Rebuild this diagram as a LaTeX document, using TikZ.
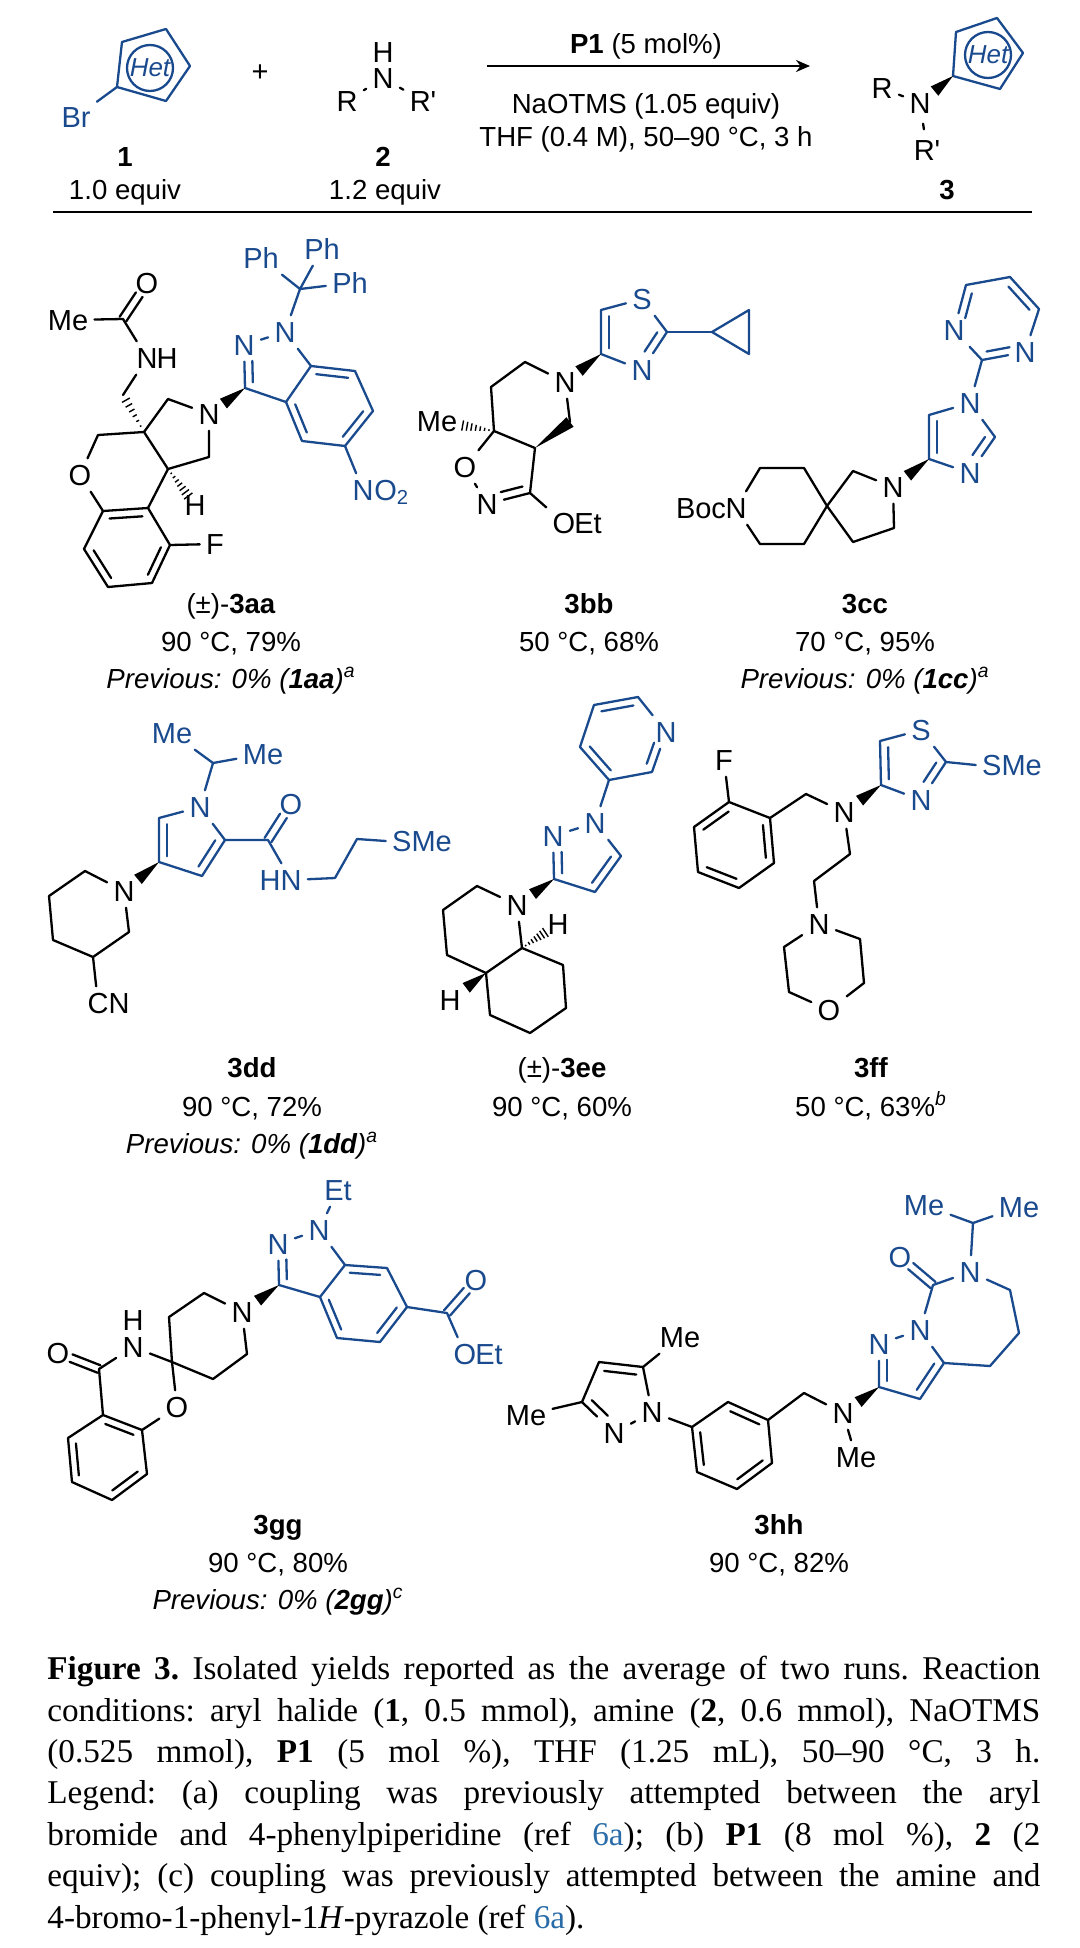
\documentclass[tikz,border=0pt]{standalone}
\usepackage{fontspec}
\setmainfont{Liberation Sans}
\newfontfamily\capfont{Liberation Serif}
\usetikzlibrary{calc}
\usetikzlibrary{arrows.meta}
\definecolor{hetblue}{HTML}{1A4A8E}
\definecolor{refblue}{HTML}{2A6CA8}
\tikzset{
 atom/.style={inner sep=3pt, text height=10.3pt, text depth=0pt, font=\fontsize{14.5}{16}\selectfont},
 lab/.style={atom, font=\fontsize{13.8}{16}\selectfont},
 bond/.style={line width=1.15pt, line cap=round, line join=round},
 hetring/.style={draw,circle,inner sep=0pt,minimum size=23pt,line width=1.15pt,font=\fontsize{13}{15}\itshape},
}
\newcommand{\inhex}[4][]{\draw[bond,shorten <=.8pt,shorten >=.8pt,#1] ($(#2)!.2!(#4)$) -- ($(#3)!.2!(#4)$);}
\newcommand{\inpent}[4][]{\draw[bond,#1] ($(#2)!.27!(#4)$) -- ($(#3)!.27!(#4)$);}
\newcommand{\twobond}[2]{
 \draw[bond,shorten >=7pt] ($(#1)!2pt!90:(#2)$) -- ($(#2)!2pt!-90:(#1)$);
 \draw[bond,shorten >=7pt] ($(#1)!2pt!-90:(#2)$) -- ($(#2)!2pt!90:(#1)$);
}
\newcommand{\wedgeb}[3][1]{
 \coordinate (wq) at ($(#2)!#1!(#3)$);
 \fill ($(wq)!3pt!90:(#2)$) -- (#2) -- ($(wq)!3pt!-90:(#2)$) -- cycle;
}
\newcommand{\hashb}[3][1]{
 \foreach \hfr in {.16,.3,.44,.58,.72,.86,1} {
  \draw[line width=.7pt] ($(#2)!\hfr*#1!(#3)!\hfr*2.6pt!90:(#3)$) -- ($(#2)!\hfr*#1!(#3)!\hfr*2.6pt!-90:(#3)$);
 }
}
\begin{document}
\begin{tikzpicture}[x=.5pt,y=-.5pt]
\useasboundingbox (0,0) rectangle (1080,1948);

\begin{scope}[hetblue]
\foreach \n/\x/\y in {a/122/42,b/166/29,c/190/66,d/166/101,e/117/87} \coordinate (sm\n) at (\x,\y);
\node[atom] (smBr) at (76,117) {Br};
\node[hetring] (smHet) at (150,68) {Het};
\draw[bond] (sma)--(smb)--(smc)--(smd)--(sme)--cycle;
\draw[bond] (sme)--(smBr);
\end{scope}
\foreach \n/\x/\y/\tx in {Plus/260/71/+,H/383/52/H,N/383/78/N,R/347/101/R,Rp/423/101/R\textquotesingle} \node[atom] (rx\n) at (\x,\y) {\tx};
\foreach \n/\x/\y/\tx in {One/125/156/\textbf{1},Two/383/156/\textbf{2},Ea/125/189/1.0 equiv,Eb/385/189/1.2 equiv,Three/947/189/\textbf{3},Pa/646/43/\textbf{P1} (5 mol\%),Pb/646/103/NaOTMS (1.05 equiv),Pc/646/136/{THF (0.4 M), 50–90 °C, 3 h}} \node[lab] (rx\n) at (\x,\y) {\tx};
\draw[bond] (rxR)--(rxN)--(rxRp);
\coordinate (arrA) at (487,66);
\coordinate (arrB) at (810,66);
\draw[bond,line cap=butt,-{Stealth[length=7pt,width=6pt]}] (arrA)--(arrB);
\coordinate (ruleA) at (53,212);
\coordinate (ruleB) at (1032,212);
\draw[line width=1.3pt] (ruleA)--(ruleB);
\begin{scope}[hetblue]
\foreach \n/\x/\y in {a/956/32,b/997/18,c/1023/53,d/1000/89,e/953/76} \coordinate (pr\n) at (\x,\y);
\node[hetring] (prHet) at (988,55) {Het};
\draw[bond] (pra)--(prb)--(prc)--(prd)--(pre)--cycle;
\end{scope}
\foreach \n/\x/\y/\tx in {R/882/88/R,N/920/103/N,Rp/927/150/R\textquotesingle} \node[atom] (pr\n) at (\x,\y) {\tx};
\draw[bond] (prR)--(prN);
\draw[bond,shorten <=2pt,shorten >=2pt] (prN)--(prRp);
\wedgeb[.56]{pre}{prN}

% 3aa
\foreach \n/\x/\y in {c/300/289,a/311/366,b/355/371,d/373/411,e/345/446,f/302/441,g/286/402,h/245/388,R/329/406,P/274/367,j/168/399,k/144/432,l/209/457,m/168/469,o/98/435,p/103/511,q/148/508,r/170/545,s/152/583,t/108/587,u/84/549,B/128/549,v/123/395,w/123/319} \coordinate (aa\n) at (\x,\y);
\begin{scope}[hetblue]
\foreach \n/\x/\y/\tx in {PhA/261/258/Ph,PhB/322/249/Ph,PhC/350/283/Ph,Na/285/332/N,Nb/244/345/N,Nc/363/490/N} \node[atom] (aa\n) at (\x,\y) {\tx};
\node[atom,anchor=west,inner sep=0pt,xshift=-3pt] (aaOtwo) at (aaNc.east) {O\textsubscript{2}};
\draw[bond] (aaPhA)--(aac)--(aaPhB);
\draw[bond] (aaPhC)--(aac)--(aaNa)--(aaNb)--(aah)--(aag)--(aaa)--(aaNa);
\draw[bond] (aaa)--(aab)--(aad)--(aae)--(aaf)--(aag);
\draw[bond] (aae)--(aaNc);
\inhex{aaa}{aab}{aaR}
\inhex{aad}{aae}{aaR}
\inhex{aaf}{aag}{aaR}
\inpent[shorten >=5pt]{aah}{aaNb}{aaP}
\end{scope}
\foreach \n/\x/\y/\tx in {N/209/414/N,O/80/475/O,F/215/544/F,H/195/505/H,NH/147/358/N,Hb/167/358/H,Me/68/320/Me,Oa/147/283/O} \node[atom] (aa\n) at (\x,\y) {\tx};
\draw[bond] (aaN)--(aaj)--(aak)--(aam)--(aal)--(aaN);
\draw[bond] (aak)--(aao)--(aaO)--(aap)--(aaq)--(aam);
\draw[bond] (aaq)--(aar)--(aas)--(aat)--(aau)--(aap);
\draw[bond] (aar)--(aaF);
\draw[bond] (aav)--(aaNH)--(aaw)--(aaMe);
\twobond{aaw}{aaOa}
\inhex{aap}{aaq}{aaB}
\inhex{aar}{aas}{aaB}
\inhex{aat}{aau}{aaB}
\wedgeb[.6]{aah}{aaN}
\hashb{aak}{aav}
\hashb[.75]{aam}{aaH}

% 3bb
\foreach \n/\x/\y in {a/601/310,b/601/354,c/667/332,d/712/332,e/749/310,f/749/354,R/631/333,g/525/362,h/491/387,i/494/431,j/570/422,k/535/448,l/530/493,P/502/469} \coordinate (bb\n) at (\x,\y);
\begin{scope}[hetblue]
\foreach \n/\x/\y/\tx in {S/642/299/S,Nt/642/370/N} \node[atom] (bb\n) at (\x,\y) {\tx};
\draw[bond] (bbS)--(bba)--(bbb)--(bbNt)--(bbc)--(bbS);
\draw[bond] (bbc)--(bbd);
\draw[bond] (bbd)--(bbe)--(bbf)--cycle;
\inpent{bba}{bbb}{bbR}
\inpent[shorten >=5pt]{bbc}{bbNt}{bbR}
\end{scope}
\foreach \n/\x/\y/\tx in {N/565/382/N,O/465/467/O,Nb/487/504/N,Oc/564/523/O,Et/588/523/Et,Me/437/421/Me} \node[atom] (bb\n) at (\x,\y) {\tx};
\draw[bond] (bbN)--(bbg)--(bbh)--(bbi)--(bbk)--(bbl)--(bbOc);
\draw[bond] (bbN)--(bbj);
\draw[bond] (bbi)--(bbO)--(bbNb)--(bbl);
\inpent[shorten >=5pt]{bbl}{bbNb}{bbP}
\wedgeb[.61]{bbb}{bbN}
\wedgeb{bbk}{bbj}
\hashb[.55]{bbi}{bbMe}

% 3cc
\foreach \n/\x/\y in {a/966/285,b/1010/277,c/1039/309,d/982/360,R/997/319,e/929/415,f/929/459,g/995/437,P/958/437,h/827/506,i/853/471,j/853/542,k/894/528,l/804/468,m/760/468,o/804/544,p/760/544} \coordinate (cc\n) at (\x,\y);
\begin{scope}[hetblue]
\foreach \n/\x/\y/\tx in {Na/954/330/N,Nb/1025/352/N,Nc/970/403/N,Nd/970/473/N} \node[atom] (cc\n) at (\x,\y) {\tx};
\draw[bond] (ccNa)--(cca)--(ccb)--(ccc)--(ccNb)--(ccd)--(ccNa);
\draw[bond] (ccd)--(ccNc)--(cce)--(ccf)--(ccNd)--(ccg)--(ccNc);
\inhex[shorten <=5pt]{ccNa}{cca}{ccR}
\inhex{ccb}{ccc}{ccR}
\inhex[shorten >=5pt]{ccd}{ccNb}{ccR}
\inpent{cce}{ccf}{ccP}
\inpent[shorten >=5pt]{ccg}{ccNd}{ccP}
\end{scope}
\foreach \n/\x/\y/\tx in {N/893/487/N,Nt/736/508/N,Boc/701/508/Boc} \node[atom] (cc\n) at (\x,\y) {\tx};
\draw[bond] (ccN)--(cci)--(cch)--(ccj)--(cck)--(ccN);
\draw[bond] (cch)--(ccl)--(ccm)--(ccNt)--(ccp)--(cco)--(cch);
\wedgeb[.6]{ccf}{ccN}

\foreach \n/\x/\y/\tx in {La/231/603/{(±)-\textbf{3aa}},Lb/231/641/{90 °C, 79\%},Lc/231/678/{\textit{Previous: 0\% (\textbf{1aa})}\textsuperscript{\textit{a}}},Ld/589/603/\textbf{3bb},Le/589/641/{50 °C, 68\%},Lf/865/603/\textbf{3cc},Lg/865/641/{70 °C, 95\%},Lh/865/678/{\textit{Previous: 0\% (\textbf{1cc})}\textsuperscript{\textit{a}}},Li/252/1067/\textbf{3dd},Lj/252/1106/{90 °C, 72\%},Lk/252/1143/{\textit{Previous: 0\% (\textbf{1dd})}\textsuperscript{\textit{a}}},Ll/562/1067/{(±)-\textbf{3ee}},Lm/562/1106/{90 °C, 60\%},Ln/871/1067/\textbf{3ff},Lo/871/1106/{50 °C, 63\%\textsuperscript{\textit{b}}},Lp/278/1524/\textbf{3gg},Lq/278/1562/{90 °C, 80\%},Lr/278/1599/{\textit{Previous: 0\% (\textbf{2gg})}\textsuperscript{\textit{c}}},Ls/779/1524/\textbf{3hh},Lt/779/1562/{90 °C, 82\%}} \node[lab] (\n) at (\x,\y) {\tx};

% 3dd
\foreach \n/\x/\y in {a/213/763,b/159/818,c/159/862,d/202/876,e/225/840,f/268/840,g/335/878,h/357/839,R/189/841,j/85/871,k/49/896,l/53/940,m/93/957,o/129/932} \coordinate (dd\n) at (\x,\y);
\begin{scope}[hetblue]
\foreach \n/\x/\y/\tx in {Ma/172/733/Me,Mb/263/754/Me,Na/200/807/N,Oa/291/804/O,Nb/291/880/N,Hb/270/880/H,S/422/841/SMe} \node[atom] (dd\n) at (\x,\y) {\tx};
\draw[bond] (ddMa)--(dda)--(ddMb);
\draw[bond] (dda)--(ddNa)--(ddb)--(ddc)--(ddd)--(dde)--(ddNa);
\draw[bond] (dde)--(ddf)--(ddNb)--(ddg)--(ddh)--(ddS.west);
\twobond{ddf}{ddOa}
\inpent{ddb}{ddc}{ddR}
\inpent{ddd}{dde}{ddR}
\end{scope}
\foreach \n/\x/\y/\tx in {N/124/891/N,C/98/1003/C,Nc/119/1003/N} \node[atom] (dd\n) at (\x,\y) {\tx};
\draw[bond] (ddN)--(ddj)--(ddk)--(ddl)--(ddm)--(ddo)--(ddN);
\draw[bond] (ddm)--(ddC);
\wedgeb[.6]{ddc}{ddN}

% 3ee
\foreach \n/\x/\y in {a/652/772,b/609/780,c/580/747,d/594/705,e/638/697,R/623/738,f/621/856,g/595/892,h/554/879,P/584/858,j/477/886,k/443/910,l/447/955,m/486/973,o/522/948,p/563/965,q/566/1008,r/530/1033,s/490/1015} \coordinate (ee\n) at (\x,\y);
\begin{scope}[hetblue]
\foreach \n/\x/\y/\tx in {Na/666/732/N,Nb/595/823/N,Nc/553/836/N} \node[atom] (ee\n) at (\x,\y) {\tx};
\draw[bond] (eeNa)--(eea)--(eeb)--(eec)--(eed)--(eee)--(eeNa);
\draw[bond] (eeb)--(eeNb)--(eeNc)--(eeh)--(eeg)--(eef)--(eeNb);
\inhex[shorten <=5pt]{eeNa}{eea}{eeR}
\inhex{eeb}{eec}{eeR}
\inhex{eed}{eee}{eeR}
\inpent{eef}{eeg}{eeP}
\inpent[shorten >=5pt]{eeh}{eeNc}{eeP}
\end{scope}
\foreach \n/\x/\y/\tx in {N/517/905/N,Ha/558/924/H,Hb/450/1000/H} \node[atom] (ee\n) at (\x,\y) {\tx};
\draw[bond] (eeN)--(eej)--(eek)--(eel)--(eem)--(eeo)--(eeN);
\draw[bond] (eeo)--(eep)--(eeq)--(eer)--(ees)--(eem);
\wedgeb[.58]{eeh}{eeN}
\wedgeb[.55]{eem}{eeHb}
\hashb[.65]{eeo}{eeHa}

% 3ff
\foreach \n/\x/\y in {a/729/802,b/770/818,c/774/863,d/739/888,e/698/872,f/694/827,B/734/845,g/806/794,h/850/854,j/814/881,k/860/939,l/864/983,m/789/992,o/784/947,p/880/741,q/881/785,r/946/762,R/910/764} \coordinate (ff\n) at (\x,\y);
\begin{scope}[hetblue]
\foreach \n/\x/\y/\tx in {S/921/730/S,Nt/921/800/N,Sm/1012/765/SMe} \node[atom] (ff\n) at (\x,\y) {\tx};
\draw[bond] (ffS)--(ffp)--(ffq)--(ffNt)--(ffr)--(ffS);
\draw[bond] (ffr)--(ffSm.west);
\inpent{ffp}{ffq}{ffR}
\inpent[shorten >=5pt]{ffr}{ffNt}{ffR}
\end{scope}
\foreach \n/\x/\y/\tx in {F/724/760/F,N/844/812/N,Nb/819/924/N,O/829/1010/O} \node[atom] (ff\n) at (\x,\y) {\tx};
\draw[bond] (ffF)--(ffa)--(ffb)--(ffc)--(ffd)--(ffe)--(fff)--(ffa);
\draw[bond] (ffb)--(ffg)--(ffN)--(ffh)--(ffj)--(ffNb)--(ffk)--(ffl)--(ffO)--(ffm)--(ffo)--(ffNb);
\inhex{ffa}{fff}{ffB}
\inhex{ffb}{ffc}{ffB}
\inhex{ffd}{ffe}{ffB}
\wedgeb[.58]{ffq}{ffN}

% 3gg
\foreach \n/\x/\y in {a/345/1265,b/387/1268,c/407/1307,d/380/1342,e/337/1338,f/320/1297,g/279/1285,R/361/1303,P/308/1264,h/447/1313,j/204/1293,k/169/1317,l/172/1362,m/213/1379,o/247/1354,p/99/1369,q/103/1415,r/142/1430,s/147/1474,t/112/1500,u/72/1482,v/68/1438,B/107/1457} \coordinate (gg\n) at (\x,\y);
\begin{scope}[hetblue]
\foreach \n/\x/\y/\tx in {Et/338/1190/Et,Na/319/1230/N,Nb/278/1244/N,Oa/476/1280/O,Ob/465/1354/O,Ec/489/1354/Et} \node[atom] (gg\n) at (\x,\y) {\tx};
\draw[bond] (ggEt)--(ggNa)--(ggNb)--(ggg)--(ggf)--(gga)--(ggNa);
\draw[bond] (gga)--(ggb)--(ggc)--(ggd)--(gge)--(ggf);
\draw[bond] (ggc)--(ggh)--(ggOb);
\twobond{ggh}{ggOa}
\inhex{gga}{ggb}{ggR}
\inhex{ggc}{ggd}{ggR}
\inhex{gge}{ggf}{ggR}
\inpent[shorten >=5pt]{ggg}{ggNb}{ggP}
\end{scope}
\foreach \n/\x/\y/\tx in {N/242/1312/N,Nh/133/1347/N,Ha/133/1320/H,Oc/58/1353/O,Od/177/1407/O} \node[atom] (gg\n) at (\x,\y) {\tx};
\draw[bond] (ggN)--(ggj)--(ggk)--(ggl)--(ggm)--(ggo)--(ggN);
\draw[bond] (ggl)--(ggNh)--(ggp)--(ggq)--(ggr)--(ggs)--(ggt)--(ggu)--(ggv)--(ggq);
\draw[bond] (ggr)--(ggOd)--(ggl);
\twobond{ggp}{ggOc}
\inhex{ggq}{ggr}{ggB}
\inhex{ggs}{ggt}{ggB}
\inhex{ggu}{ggv}{ggB}
\wedgeb[.58]{ggg}{ggN}

% 3hh
\foreach \n/\x/\y in {a/973/1223,b/933/1285,c/944/1363,d/920/1399,e/879/1387,P/908/1365,f/990/1366,g/1019/1333,h/1010/1290,j/804/1393,k/768/1420,l/728/1402,m/692/1427,o/697/1472,p/737/1489,q/772/1463,B/732/1445,r/643/1367,s/599/1362,t/582/1402,R/618/1395} \coordinate (hh\n) at (\x,\y);
\begin{scope}[hetblue]
\foreach \n/\x/\y/\tx in {Ma/924/1205/Me,Mb/1019/1207/Me,Na/970/1272/N,Oa/900/1257/O,Nb/920/1330/N,Nc/879/1344/N} \node[atom] (hh\n) at (\x,\y) {\tx};
\draw[bond] (hhMa)--(hha)--(hhMb);
\draw[bond] (hha)--(hhNa)--(hhb)--(hhNb)--(hhNc)--(hhe)--(hhd)--(hhc)--(hhNb);
\draw[bond] (hhc)--(hhf)--(hhg)--(hhh)--(hhNa);
\twobond{hhb}{hhOa}
\inpent{hhc}{hhd}{hhP}
\inpent[shorten >=5pt]{hhe}{hhNc}{hhP}
\end{scope}
\foreach \n/\x/\y/\tx in {N/843/1413/N,Mc/856/1457/Me,Nd/652/1412/N,Ne/614/1433/N,Md/680/1337/Me,Me/526/1415/Me} \node[atom] (hh\n) at (\x,\y) {\tx};
\draw[bond] (hhN)--(hhMc);
\draw[bond] (hhN)--(hhj)--(hhk)--(hhl)--(hhm)--(hho)--(hhp)--(hhq)--(hhk);
\draw[bond] (hhm)--(hhNd)--(hhr)--(hhs)--(hht)--(hhNe)--(hhNd);
\draw[bond] (hhr)--(hhMd);
\draw[bond] (hht)--(hhMe);
\inhex{hhk}{hhl}{hhB}
\inhex{hhm}{hho}{hhB}
\inhex{hhp}{hhq}{hhB}
\inpent{hhr}{hhs}{hhR}
\inpent[shorten >=5pt]{hht}{hhNe}{hhR}
\wedgeb[.58]{hhe}{hhN}

\node[anchor=north west,inner sep=0pt,text width=496.5pt,align=justify] (capt) at (47,1656) {\capfont\fontsize{16.6}{20.7}\selectfont\frenchspacing \textbf{Figure 3.} Isolated yields reported as the average of two runs. Reaction\linebreak
conditions: aryl halide (\textbf{1}, 0.5 mmol), amine (\textbf{2}, 0.6 mmol), NaOTMS\linebreak
(0.525 mmol), \textbf{P1} (5 mol \%), THF (1.25 mL), 50–90 °C, 3 h.\linebreak
Legend: (a) coupling was previously attempted between the aryl\linebreak
bromide and 4-phenylpiperidine (ref {\color{refblue}6a}); (b) \textbf{P1} (8 mol \%), \textbf{2} (2\linebreak
equiv); (c) coupling was previously attempted between the amine and\linebreak
4-bromo-1-phenyl-1\textit{H}-pyrazole (ref {\color{refblue}6a}).\par};
\end{tikzpicture}
\end{document}
